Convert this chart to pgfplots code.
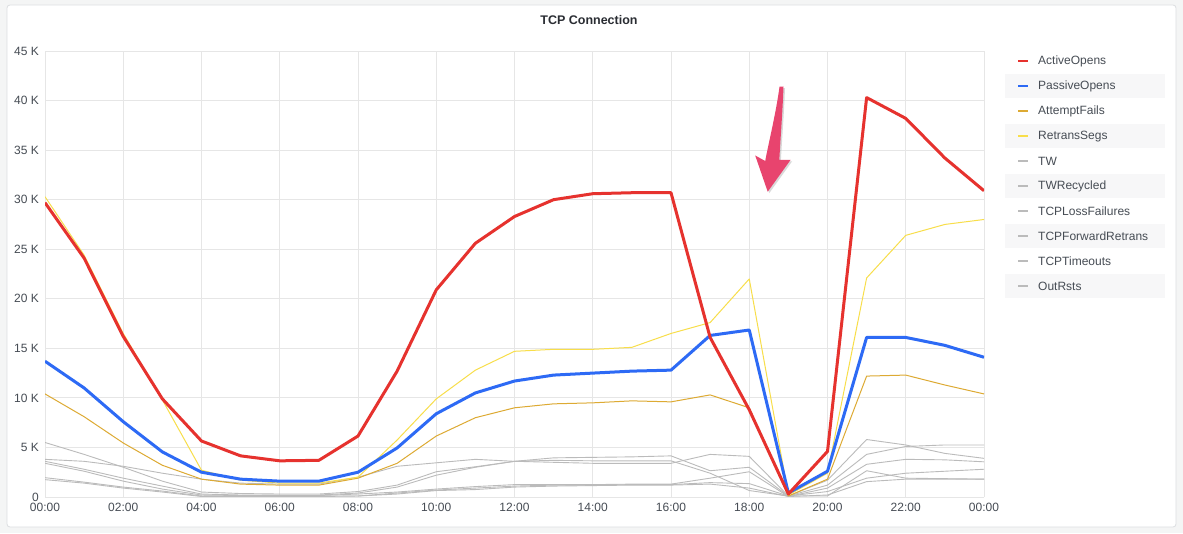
\documentclass[border=0pt]{standalone}
\usepackage{pgfplots}
\pgfplotsset{compat=1.18}
\usepackage{pgfplotstable}
\usepackage{fontspec}
\setmainfont{Liberation Sans}
\definecolor{bgc}{HTML}{F4F5F5}
\definecolor{panelborder}{HTML}{DCDEE0}
\definecolor{gridc}{HTML}{E6E6E6}
\definecolor{tickc}{HTML}{464C54}
\definecolor{titlec}{HTML}{2A2D33}
\definecolor{redc}{HTML}{E6322E}
\definecolor{bluec}{HTML}{2D6AF5}
\definecolor{afc}{HTML}{DDAA33}
\definecolor{rsc}{HTML}{F8DE4A}
\definecolor{grayc}{HTML}{BBBBBB}
\definecolor{rowc}{HTML}{F7F7F8}
\definecolor{arrowc}{HTML}{E8446E}

\pgfplotstableread{
h ao po af rs ga gb gc gd ge gf
0 29.7 13.7 10.4 30.3 3.8 5.5 3.6 3.4 1.95 1.75
1 24.1 11.0 8.1 24.4 3.6 4.3 2.8 2.6 1.5 1.4
2 16.2 7.6 5.45 16.5 3.1 3.0 1.9 1.6 1.0 0.9
3 9.9 4.55 3.2 9.8 2.4 1.6 1.1 0.8 0.6 0.5
4 5.65 2.5 1.8 2.7 1.8 0.5 0.3 0.2 0.1 0.05
5 4.15 1.8 1.3 1.7 1.4 0.35 0.2 0.15 0.1 0.05
6 3.65 1.6 1.2 1.4 1.3 0.3 0.2 0.15 0.1 0.05
7 3.7 1.6 1.2 1.4 1.3 0.3 0.2 0.15 0.1 0.05
8 6.15 2.5 1.9 2.0 2.0 0.55 0.4 0.3 0.1 0.1
9 12.7 4.95 3.4 5.75 3.1 1.2 1.0 0.5 0.4 0.3
10 20.9 8.4 6.15 9.9 3.45 2.55 2.2 0.8 0.7 0.65
11 25.6 10.5 8.0 12.8 3.8 3.05 3.0 1.05 0.9 0.75
12 28.3 11.7 9.0 14.7 3.6 3.6 3.6 1.25 1.1 1.0
13 30.0 12.3 9.4 14.9 3.5 3.95 3.7 1.25 1.2 1.1
14 30.6 12.5 9.5 14.9 3.4 4.0 3.65 1.25 1.2 1.15
15 30.7 12.7 9.7 15.1 3.4 4.05 3.65 1.3 1.25 1.2
16 30.7 12.8 9.6 16.5 3.4 4.15 3.65 1.3 1.25 1.2
17 16.1 16.3 10.3 17.6 4.3 2.65 2.4 1.9 1.45 1.3
18 8.8 16.85 9.0 22.0 4.1 3.0 0.65 2.55 1.35 0.9
19 0.3 0.4 0.1 0.2 0.1 0.1 0.1 0.05 0.1 0.05
20 4.6 2.6 1.8 2.4 1.2 1.7 0.1 0.9 0.55 0.2
21 40.3 16.1 12.2 22.1 4.3 5.8 2.65 3.3 1.9 1.55
22 38.2 16.1 12.3 26.4 5.1 5.25 1.9 3.8 2.4 1.8
23 34.2 15.3 11.3 27.5 5.25 4.4 1.85 3.75 2.6 1.8
24 30.9 14.1 10.4 28.0 5.25 3.9 1.8 3.55 2.8 1.8
}\data

\begin{document}
\begin{tikzpicture}[x=1pt,y=1pt]
\path[use as bounding box] (0,0) rectangle (1183,533);
\fill[bgc] (0,0) rectangle (1183,533);
\filldraw[fill=white, draw=panelborder, line width=0.8pt, rounded corners=3pt] (7,6) rectangle (1176,528);
\node[font=\bfseries\fontsize{12.5}{15}\selectfont, text=titlec] at (589,513) {TCP Connection};

\begin{axis}[
  at={(45pt,36pt)}, anchor=south west,
  scale only axis, width=939pt, height=446pt,
  xmin=0, xmax=24, ymin=0, ymax=45,
  xtick={0,2,...,24},
  xticklabels={00:00,02:00,04:00,06:00,08:00,10:00,12:00,14:00,16:00,18:00,20:00,22:00,00:00},
  ytick={0,5,...,45},
  yticklabels={0,5 K,10 K,15 K,20 K,25 K,30 K,35 K,40 K,45 K},
  grid=major, major grid style={draw=gridc, line width=0.8pt},
  axis line style={draw=none}, major tick length=0pt,
  tick label style={font=\fontsize{12}{14}\selectfont, text=tickc},
  xticklabel style={inner sep=0pt, yshift=-6pt},
  yticklabel style={inner sep=0pt, xshift=-6pt},
  every axis plot/.append style={line join=round},
]
\addplot[grayc, line width=0.9pt] table[x=h,y=ga] {\data};
\addplot[grayc, line width=0.9pt] table[x=h,y=gb] {\data};
\addplot[grayc, line width=0.9pt] table[x=h,y=gc] {\data};
\addplot[grayc, line width=0.9pt] table[x=h,y=gd] {\data};
\addplot[grayc, line width=0.9pt] table[x=h,y=ge] {\data};
\addplot[grayc, line width=0.9pt] table[x=h,y=gf] {\data};
\addplot[afc, line width=1pt] table[x=h,y=af] {\data};
\addplot[rsc, line width=1pt] table[x=h,y=rs] {\data};
\addplot[bluec, line width=3pt] table[x=h,y=po] {\data};
\addplot[redc, line width=3pt] table[x=h,y=ao] {\data};
\end{axis}

% annotation arrow
\begin{scope}[shift={(1.5,-1.5)}]
\fill[black, opacity=0.15] (779.5,446.3) -- (783.5,446.3) .. controls (782.5,420) and (780.5,395) .. (779.3,373) -- (790.5,373) -- (767.7,341.3) -- (755.2,377.5) -- (765.2,372) .. controls (769,392) and (776,420) .. (779.5,446.3) -- cycle;
\end{scope}
\fill[arrowc] (779.5,446.3) -- (783.5,446.3) .. controls (782.5,420) and (780.5,395) .. (779.3,373) -- (790.5,373) -- (767.7,341.3) -- (755.2,377.5) -- (765.2,372) .. controls (769,392) and (776,420) .. (779.5,446.3) -- cycle;

% legend
\foreach \i in {1,3,5,7,9} {
  \fill[rowc] (1005,{533-61.5-25*\i-12}) rectangle (1165,{533-61.5-25*\i+12});
}
\foreach \c/\t [count=\i from 0] in {redc/ActiveOpens,bluec/PassiveOpens,afc/AttemptFails,rsc/RetransSegs,grayc/TW,grayc/TWRecycled,grayc/TCPLossFailures,grayc/TCPForwardRetrans,grayc/TCPTimeouts,grayc/OutRsts} {
  \draw[\c, line width=2pt] (1018,{533-61.5-25*\i}) -- (1028,{533-61.5-25*\i});
  \node[anchor=west, inner sep=0pt, font=\fontsize{12}{14}\selectfont, text=tickc] at (1038,{533-61.5-25*\i}) {\t};
}
\end{tikzpicture}
\end{document}
